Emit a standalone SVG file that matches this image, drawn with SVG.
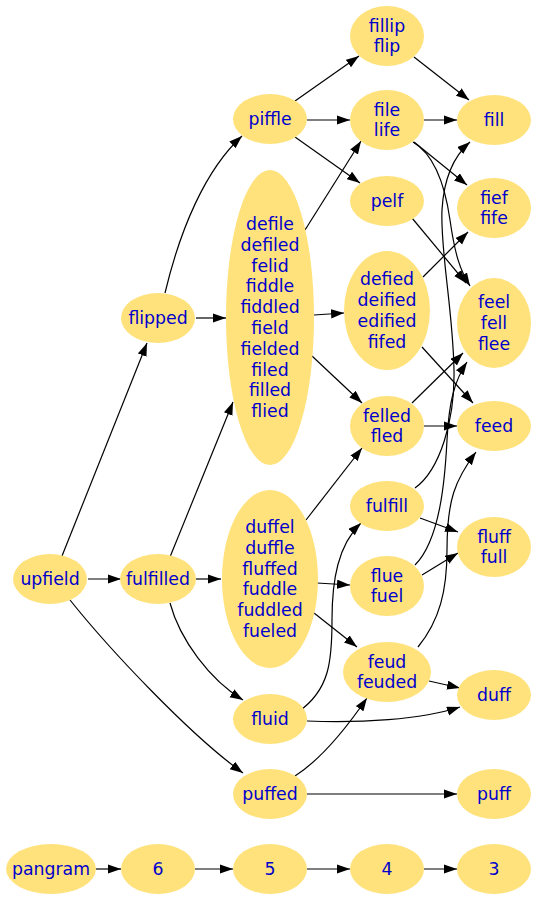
<svg xmlns="http://www.w3.org/2000/svg" width="537" height="900" viewBox="0 0 537 900">
<style>
.n ellipse{fill:#ffe27b;stroke:none}
.n text{font-family:"DejaVu Sans","Liberation Sans",sans-serif;font-size:17.3px;fill:#0000cd;text-anchor:middle}
.e path{fill:none;stroke:#000;stroke-width:1.2;marker-end:url(#ah)}
</style>
<defs>
<marker id="ah" markerUnits="userSpaceOnUse" markerWidth="13" markerHeight="10" refX="13" refY="4.6" orient="auto">
<path d="M0,0 L13,4.6 L0,9.2 z" fill="#000"/>
</marker>
</defs>
<rect width="537" height="900" fill="#fff"/>
<g id="edges" class="e">
<path d="M62,556 L147,343"/>
<path d="M88,579 L121,579"/>
<path d="M70,600 C110,650 190,735 243,773"/>
<path d="M165,293 C180,230 205,170 242,136"/>
<path d="M196,318 L226,318"/>
<path d="M170,557 L233,402"/>
<path d="M196,579 L221,579"/>
<path d="M170,603 C180,640 210,680 243,700"/>
<path d="M295,101 L359,56"/>
<path d="M307,120 L350,120"/>
<path d="M295,137 L360,183"/>
<path d="M305,230 L361,141"/>
<path d="M314,315 L344,313"/>
<path d="M312,356 L362,403"/>
<path d="M306,520 L362,448"/>
<path d="M317,583 L350,585"/>
<path d="M314,613 L357,647"/>
<path d="M298,712 C330,690 332,660 332,620 C332,580 338,545 361,523"/>
<path d="M307,721 C360,723 420,720 460,707"/>
<path d="M295,776 C320,760 345,730 367,698"/>
<path d="M307,794 L457,794"/>
<path d="M414,57 L469,100"/>
<path d="M424,120 L457,120"/>
<path d="M414,142 L467,185"/>
<path d="M413,142 C435,155 445,185 450,220 C455,255 460,270 470,286"/>
<path d="M412,218 L466,283"/>
<path d="M423,277 L468,232"/>
<path d="M422,347 L473,403"/>
<path d="M412,403 L463,353"/>
<path d="M424,426 L457,426"/>
<path d="M415,488 C440,470 455,420 454,370 C453,310 440,250 442,210 C444,175 455,155 470,142"/>
<path d="M420,518 L458,532"/>
<path d="M415,565 C440,540 445,480 447,440 C449,400 455,380 467,362"/>
<path d="M422,575 L458,553"/>
<path d="M418,647 C440,620 447,590 447,550 C447,500 455,480 476,452"/>
<path d="M429,681 L460,688"/>
<path d="M96,869 L121,869"/>
<path d="M195,869 L233,869"/>
<path d="M307,869 L350,869"/>
<path d="M424,869 L457,869"/>
</g>
<g id="upfield" class="n"><ellipse cx="50" cy="579" rx="37" ry="25"/><text x="50" y="585">upfield</text></g>
<g id="flipped" class="n"><ellipse cx="158" cy="318" rx="37" ry="25"/><text x="158" y="324">flipped</text></g>
<g id="fulfilled" class="n"><ellipse cx="158" cy="579" rx="38" ry="25"/><text x="158" y="585">fulfilled</text></g>
<g id="piffle" class="n"><ellipse cx="270" cy="119" rx="37" ry="25"/><text x="270" y="125">piffle</text></g>
<g id="defile" class="n"><ellipse cx="270" cy="317.5" rx="44" ry="147.5"/><text x="270" y="229.9"><tspan x="270">defile</tspan><tspan x="270" dy="20.8">defiled</tspan><tspan x="270" dy="20.8">felid</tspan><tspan x="270" dy="20.8">fiddle</tspan><tspan x="270" dy="20.8">fiddled</tspan><tspan x="270" dy="20.8">field</tspan><tspan x="270" dy="20.8">fielded</tspan><tspan x="270" dy="20.8">filed</tspan><tspan x="270" dy="20.8">filled</tspan><tspan x="270" dy="20.8">flied</tspan></text></g>
<g id="duffel" class="n"><ellipse cx="270" cy="579" rx="48" ry="89"/><text x="270" y="533"><tspan x="270">duffel</tspan><tspan x="270" dy="20.8">duffle</tspan><tspan x="270" dy="20.8">fluffed</tspan><tspan x="270" dy="20.8">fuddle</tspan><tspan x="270" dy="20.8">fuddled</tspan><tspan x="270" dy="20.8">fueled</tspan></text></g>
<g id="fluid" class="n"><ellipse cx="270" cy="719" rx="37" ry="25"/><text x="270" y="725">fluid</text></g>
<g id="puffed" class="n"><ellipse cx="270" cy="794" rx="37" ry="25"/><text x="270" y="800">puffed</text></g>
<g id="fillip" class="n"><ellipse cx="387" cy="36" rx="37" ry="30"/><text x="387" y="31.6"><tspan x="387">fillip</tspan><tspan x="387" dy="20.8">flip</tspan></text></g>
<g id="file" class="n"><ellipse cx="387" cy="120" rx="37" ry="30"/><text x="387" y="115.6"><tspan x="387">file</tspan><tspan x="387" dy="20.8">life</tspan></text></g>
<g id="pelf" class="n"><ellipse cx="387" cy="201" rx="37" ry="25"/><text x="387" y="207">pelf</text></g>
<g id="defied" class="n"><ellipse cx="387" cy="310.5" rx="43" ry="59.5"/><text x="387" y="285.3"><tspan x="387">defied</tspan><tspan x="387" dy="20.8">deified</tspan><tspan x="387" dy="20.8">edified</tspan><tspan x="387" dy="20.8">fifed</tspan></text></g>
<g id="felled" class="n"><ellipse cx="387" cy="426" rx="37" ry="30"/><text x="387" y="421.6"><tspan x="387">felled</tspan><tspan x="387" dy="20.8">fled</tspan></text></g>
<g id="fulfill" class="n"><ellipse cx="387" cy="506" rx="37" ry="25"/><text x="387" y="512">fulfill</text></g>
<g id="flue" class="n"><ellipse cx="387" cy="586" rx="37" ry="30"/><text x="387" y="581.6"><tspan x="387">flue</tspan><tspan x="387" dy="20.8">fuel</tspan></text></g>
<g id="feud" class="n"><ellipse cx="387" cy="672" rx="44" ry="30"/><text x="387" y="667.6"><tspan x="387">feud</tspan><tspan x="387" dy="20.8">feuded</tspan></text></g>
<g id="fill" class="n"><ellipse cx="494" cy="120" rx="37" ry="25"/><text x="494" y="126">fill</text></g>
<g id="fief" class="n"><ellipse cx="494" cy="208" rx="37" ry="30"/><text x="494" y="203.6"><tspan x="494">fief</tspan><tspan x="494" dy="20.8">fife</tspan></text></g>
<g id="feel" class="n"><ellipse cx="494" cy="323" rx="37" ry="45"/><text x="494" y="308.2"><tspan x="494">feel</tspan><tspan x="494" dy="20.8">fell</tspan><tspan x="494" dy="20.8">flee</tspan></text></g>
<g id="feed" class="n"><ellipse cx="494" cy="426" rx="37" ry="25"/><text x="494" y="432">feed</text></g>
<g id="fluff" class="n"><ellipse cx="494" cy="547" rx="37" ry="30"/><text x="494" y="542.6"><tspan x="494">fluff</tspan><tspan x="494" dy="20.8">full</tspan></text></g>
<g id="duff" class="n"><ellipse cx="494" cy="695" rx="37" ry="25"/><text x="494" y="701">duff</text></g>
<g id="puff" class="n"><ellipse cx="494" cy="794" rx="37" ry="25"/><text x="494" y="800">puff</text></g>
<g id="pangram" class="n"><ellipse cx="51" cy="869" rx="45" ry="25"/><text x="51" y="875">pangram</text></g>
<g id="n6" class="n"><ellipse cx="158" cy="869" rx="37" ry="25"/><text x="158" y="875">6</text></g>
<g id="n5" class="n"><ellipse cx="270" cy="869" rx="37" ry="25"/><text x="270" y="875">5</text></g>
<g id="n4" class="n"><ellipse cx="387" cy="869" rx="37" ry="25"/><text x="387" y="875">4</text></g>
<g id="n3" class="n"><ellipse cx="494" cy="869" rx="37" ry="25"/><text x="494" y="875">3</text></g>
</svg>
